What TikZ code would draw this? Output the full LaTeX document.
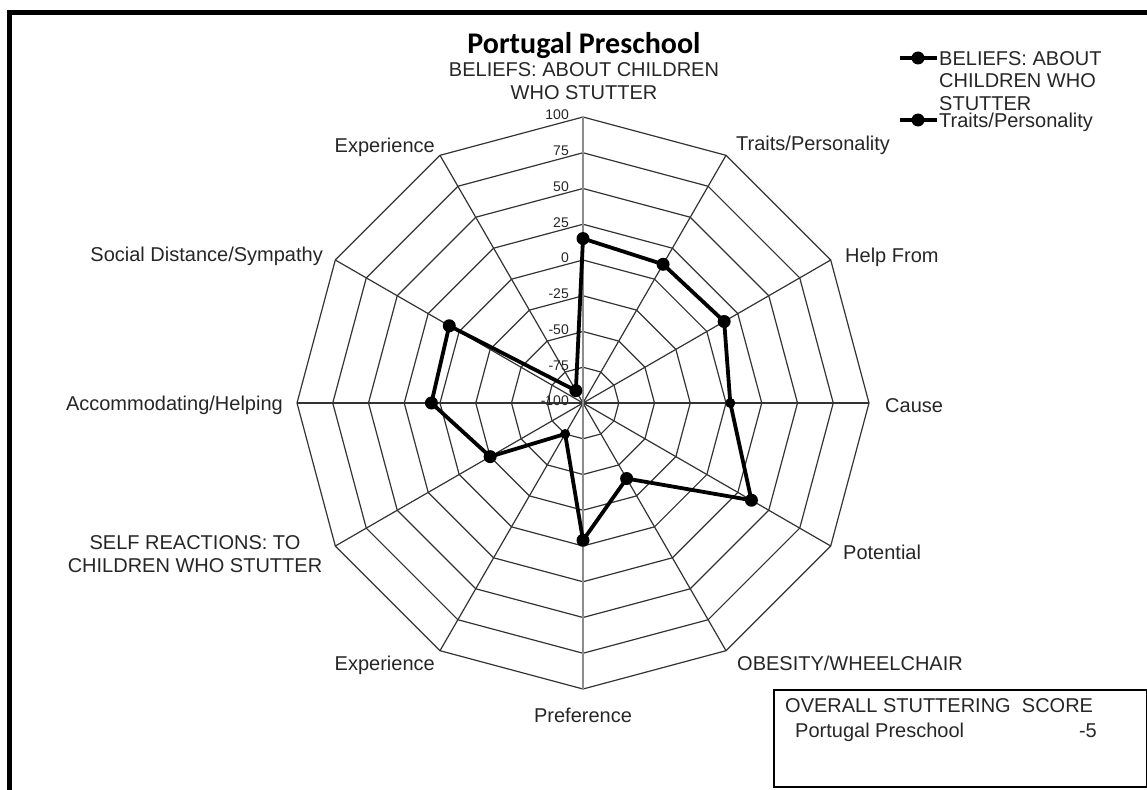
\documentclass[tikz,border=0pt]{standalone}
\usepackage{fontspec}
\setmainfont{Liberation Sans}
\newfontfamily\calibrifont{Carlito}
\begin{document}
\begin{tikzpicture}[x=1pt,y=-1pt,
  lbl/.style={font=\fontsize{20}{23}\selectfont, text=black!85, inner sep=0pt},
  ticklbl/.style={font=\fontsize{14}{16}\selectfont, text=black!85, inner sep=0pt, anchor=east},
  gridline/.style={line width=1.2pt, draw=black!80},
  valaxis/.style={line width=1.8pt, draw=black!45},
  dataline/.style={line width=3.8pt, draw=black, line join=round},
  marker/.style={circle, fill=black, inner sep=0pt, minimum size=13pt},
  smallmarker/.style={circle, fill=black, inner sep=0pt, minimum size=10pt},
  frame/.style={line width=5pt, draw=black}]
\useasboundingbox (0,0) rectangle (1147,789);
\begin{scope}
  \clip (0,0) rectangle (1147,789);
  \draw[frame] (9.5,12.5) rectangle (1200,850);
\end{scope}
\coordinate (c) at (583,403);
% rings
\foreach \k in {1,...,8}{
  \draw[gridline] ({583},{403-\k*35.75})
    \foreach \a in {30,60,...,330}{ -- ({583+\k*35.75*sin(\a)},{403-\k*35.75*cos(\a)}) } -- cycle;
}
% spokes
\foreach \a in {30,60,...,330}{
  \coordinate (s\a) at ({583+286*sin(\a)},{403-286*cos(\a)});
  \draw[gridline] (c) -- (s\a);
}
\coordinate (stop) at (583,117);
\coordinate (sbot) at (583,689);
\draw[valaxis] (stop) -- (sbot);
% tick labels
\foreach \v [count=\i from 0] in {-100,-75,-50,-25,0,25,50,75,100}{
  \node[ticklbl] (t\i) at (569,{403-\i*35.75-2}) {\v};
}
% data
\foreach \v [count=\i] in {15,12,14,3,36,-39,-4,-75,-25,6,8,-90}{
  \coordinate (p\i) at ({583+(\v+100)*1.43*sin((\i-1)*30)},{403-(\v+100)*1.43*cos((\i-1)*30)});
}
\draw[dataline] (p1) -- (p2) -- (p3) -- (p4) -- (p5) -- (p6) -- (p7) -- (p8) -- (p9) -- (p10) -- (p11) -- (p12) -- cycle;
\foreach \i in {1,2,3,5,6,7,9,10,11,12}{ \node[marker] (m\i) at (p\i) {}; }
\foreach \i in {4,8}{ \node[smallmarker] (m\i) at (p\i) {}; }
% title
\node[inner sep=0pt, anchor=base, font=\calibrifont\bfseries\fontsize{30}{33}\selectfont] (title) at (584,53.5) {Portugal Preschool};
% category labels
\node[lbl, anchor=north, align=center] (lb1) at (584,62) {BELIEFS: ABOUT CHILDREN\\WHO STUTTER};
\node[lbl, anchor=base west] (lb2) at (736,150) {Traits/Personality};
\node[lbl, anchor=base west] (lb3) at (845,262) {Help From};
\node[lbl, anchor=base west] (lb4) at (885,412) {Cause};
\node[lbl, anchor=base west] (lb5) at (843,559) {Potential};
\node[lbl, anchor=base west] (lb6) at (737,670) {OBESITY/WHEELCHAIR};
\node[lbl, anchor=base] (lb7) at (583,722) {Preference};
\node[lbl, anchor=base east] (lb8) at (435,670) {Experience};
\node[lbl, anchor=north, align=center] (lb9) at (195,535) {SELF REACTIONS: TO\\CHILDREN WHO STUTTER};
\node[lbl, anchor=base east] (lb10) at (283,410) {Accommodating/Helping};
\node[lbl, anchor=base east] (lb11) at (323,261) {Social Distance/Sympathy};
\node[lbl, anchor=base east] (lb12) at (435,152) {Experience};
% legend
\coordinate (la1) at (900,58); \coordinate (lb1e) at (937,58);
\draw[dataline] (la1) -- (lb1e);
\node[marker] (lm1) at (918,58) {};
\node[lbl, anchor=north west, align=left, font=\fontsize{20}{22.5}\selectfont] (lt1) at (939,51) {BELIEFS: ABOUT\\CHILDREN WHO\\STUTTER};
\coordinate (la2) at (900,120); \coordinate (lb2e) at (937,120);
\draw[dataline] (la2) -- (lb2e);
\node[marker] (lm2) at (918,120) {};
\node[lbl, anchor=base west] (lt2) at (939,127) {Traits/Personality};
% score box
\node[draw=black, line width=2.5pt, minimum width=373pt, minimum height=97pt, anchor=north west, inner sep=0pt] (box) at (772.5,688.5) {};
\node[lbl, anchor=base west] (sc1) at (785,712) {OVERALL STUTTERING\ \ SCORE};
\node[lbl, anchor=base west] (sc2) at (795,737) {Portugal Preschool};
\node[lbl, anchor=base east] (sc3) at (1097,737) {-5};
\end{tikzpicture}
\end{document}
